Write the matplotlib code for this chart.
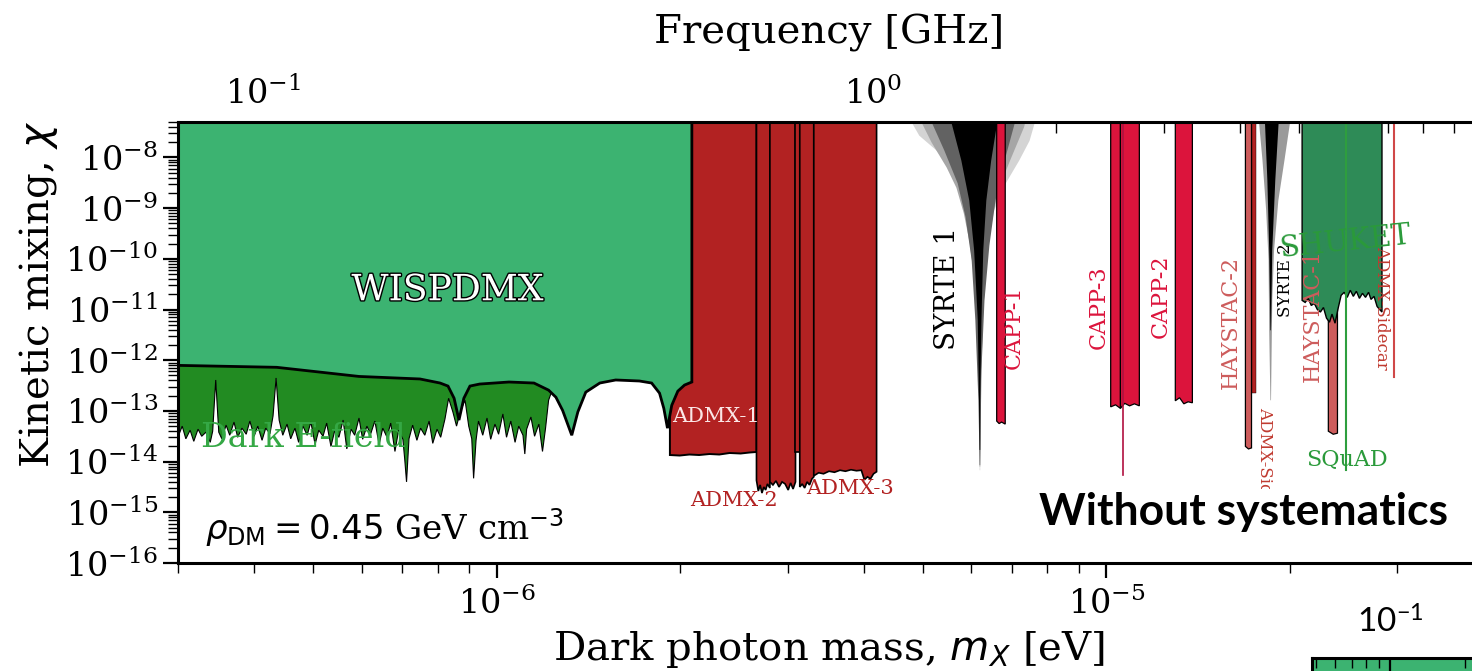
import matplotlib.pyplot as plt
import matplotlib.patheffects as pe
from matplotlib.ticker import LogLocator, NullFormatter
import numpy as np

plt.rcParams['font.family'] = 'serif'
plt.rcParams['font.serif'] = ['DejaVu Serif']
plt.rcParams['mathtext.fontset'] = 'dejavusans'

# all limits stored as log10(m_X / eV), log10(chi)
TOP = -7.0

# WISPDMX
wisp_logm = [-6.53, -6.361, -6.226, -6.126, -6.093, -6.080, -6.070, -6.062, -6.054, -6.044,
             -6.028, -5.980, -5.939, -5.915, -5.903, -5.892, -5.877, -5.867, -5.854, -5.831,
             -5.805, -5.766, -5.746, -5.733, -5.726, -5.720, -5.713, -5.703, -5.692, -5.680]
wisp_logchi = [-12.10, -12.14, -12.32, -12.37, -12.45, -12.51, -12.75, -13.18, -12.75, -12.51,
               -12.47, -12.43, -12.45, -12.59, -12.73, -12.99, -13.48, -13.02, -12.63, -12.45,
               -12.39, -12.41, -12.45, -12.65, -12.95, -13.34, -12.89, -12.61, -12.49, -12.43]

# Dark E-field
efield_logm = [-6.530, -6.523, -6.516, -6.510, -6.503, -6.497, -6.490, -6.484, -6.477, -6.470,
               -6.466, -6.461, -6.456, -6.451, -6.444, -6.438, -6.431, -6.425, -6.418, -6.411,
               -6.405, -6.398, -6.392, -6.385, -6.379, -6.372, -6.367, -6.362, -6.357, -6.351,
               -6.344, -6.338, -6.331, -6.325, -6.318, -6.311, -6.305, -6.298, -6.292, -6.285,
               -6.279, -6.272, -6.266, -6.259, -6.252, -6.246, -6.239, -6.233, -6.226, -6.220,
               -6.213, -6.207, -6.200, -6.193, -6.187, -6.180, -6.174, -6.167, -6.161, -6.154,
               -6.151, -6.148, -6.144, -6.138, -6.131, -6.125, -6.118, -6.111, -6.105, -6.098,
               -6.092, -6.085, -6.079, -6.072, -6.066, -6.059, -6.052, -6.046, -6.041, -6.038,
               -6.034, -6.030, -6.023, -6.016, -6.010, -6.003, -5.997, -5.990, -5.984, -5.977,
               -5.970, -5.964, -5.957, -5.954, -5.951, -5.944, -5.938, -5.931, -5.925, -5.920,
               -5.915, -5.908]
efield_logchi = [-13.45, -13.52, -13.30, -13.55, -13.38, -13.60, -13.36, -13.50, -13.42, -13.62,
                 -13.40, -12.39, -13.42, -13.55, -13.28, -13.48, -13.22, -13.52, -13.34, -13.46,
                 -13.20, -13.50, -13.30, -13.58, -13.34, -13.45, -13.10, -12.35, -13.18, -13.48,
                 -13.26, -13.55, -13.34, -13.62, -13.30, -13.48, -13.22, -13.66, -13.38, -13.50,
                 -13.24, -13.70, -13.40, -13.52, -13.18, -13.75, -13.36, -13.48, -13.14, -13.56,
                 -13.30, -13.46, -13.20, -13.66, -13.34, -13.52, -13.24, -13.80, -13.38, -13.56,
                 -13.95, -14.40, -13.55, -13.28, -13.58, -13.34, -13.48, -13.20, -13.64, -13.36,
                 -13.52, -13.16, -12.75, -13.02, -13.30, -12.98, -12.79, -13.30, -13.55, -14.33,
                 -13.58, -13.20, -13.48, -13.14, -13.56, -13.26, -13.46, -13.06, -13.52, -13.20,
                 -13.62, -13.30, -13.48, -13.85, -13.36, -13.12, -13.50, -13.26, -13.80, -13.34,
                 -12.79, -12.55]

# ADMX runs
admx1_logm = [-5.716, -5.700, -5.684, -5.668, -5.651, -5.635, -5.618, -5.600, -5.585, -5.574]
admx1_logchi = [-13.87, -13.88, -13.86, -13.87, -13.85, -13.86, -13.83, -13.84, -13.82, -13.81]
admx2a_logm = [-5.574, -5.571, -5.568, -5.565, -5.562, -5.559, -5.556, -5.552]
admx2a_logchi = [-14.37, -14.58, -14.46, -14.62, -14.50, -14.56, -14.44, -14.52]
admx2b_logm = [-5.552, -5.547, -5.542, -5.537, -5.532, -5.527, -5.522, -5.518, -5.514, -5.510]
admx2b_logchi = [-14.40, -14.46, -14.38, -14.50, -14.40, -14.44, -14.56, -14.42, -14.54, -14.40]
admx2c_logm = [-5.510, -5.503]
admx2c_logchi = [-13.81, -13.81]
admx3a_logm = [-5.503, -5.499, -5.495, -5.491, -5.487, -5.483, -5.480]
admx3a_logchi = [-14.50, -14.44, -14.52, -14.40, -14.46, -14.34, -14.30]
admx3b_logm = [-5.480, -5.472, -5.464, -5.455, -5.446, -5.437, -5.428, -5.419, -5.410,
               -5.402, -5.397, -5.392, -5.387, -5.382, -5.377]
admx3b_logchi = [-14.28, -14.22, -14.24, -14.19, -14.21, -14.17, -14.19, -14.16, -14.18,
                 -14.17, -14.36, -14.30, -14.34, -14.24, -14.20]

# CAPP runs
capp1_logm = [-5.180, -5.176, -5.172, -5.166]
capp1_logchi = [-13.20, -13.25, -13.22, -13.26]
capp3a_logm = [-4.993, -4.985, -4.977]
capp3a_logchi = [-12.92, -12.88, -12.95]
capp3b_logm = [-4.977, -4.970, -4.962, -4.954, -4.946]
capp3b_logchi = [-12.95, -12.85, -12.90, -12.86, -12.90]
capp3_line_logm = -4.972
capp3_line_logchi = -14.27
capp2_logm = [-4.887, -4.880, -4.873, -4.866, -4.859]
capp2_logchi = [-12.80, -12.74, -12.86, -12.82, -12.84]

# HAYSTAC, ADMX sidecar, SQuAD, SHUKET
haystac2_logm = [-4.772, -4.767, -4.762]
haystac2_logchi = [-13.70, -13.75, -13.73]
sidecar1_logm = [-4.762, -4.754]
sidecar1_logchi = [-12.65, -12.65]
haystac1_logm = [-4.636, -4.628, -4.621]
haystac1_logchi = [-13.40, -13.46, -13.44]
squad_logm = -4.607
squad_logchi = -14.17
sidecar2_logm = -4.528
sidecar2_logchi = -12.34
shuket_logm = [-4.679, -4.674, -4.669, -4.664, -4.659, -4.654, -4.649, -4.644, -4.639, -4.634,
               -4.630, -4.625, -4.620, -4.615, -4.610, -4.605, -4.600, -4.595, -4.590, -4.585,
               -4.580, -4.575, -4.570, -4.566, -4.561, -4.556, -4.551, -4.548]
shuket_logchi = [-10.82, -10.86, -10.78, -10.92, -10.88, -11.00, -11.05, -10.96, -11.17, -11.25,
                 -11.09, -11.27, -10.98, -10.72, -10.66, -10.76, -10.62, -10.74, -10.64, -10.78,
                 -10.68, -10.76, -10.66, -10.80, -10.74, -10.94, -11.01, -11.05]

# SYRTE clock comparisons, nested envelopes (outer -> inner)
syrte1_layers = [
    ([-5.334, -5.307, -5.279, -5.257, -5.243, -5.233, -5.225, -5.218, -5.215, -5.211, -5.210,
      -5.208, -5.208, -5.207, -5.207, -5.203, -5.198, -5.192, -5.184, -5.167, -5.143, -5.126, -5.110],
     [-7.0, -7.57, -7.86, -8.20, -8.51, -8.85, -9.18, -9.64, -10.17, -10.82, -11.47,
      -12.79, -14.17, -14.17, -12.79, -11.21, -10.23, -9.54, -9.04, -8.55, -8.06, -7.67, -7.0]),
    ([-5.316, -5.287, -5.262, -5.246, -5.234, -5.224, -5.216, -5.211, -5.209, -5.208,
      -5.207, -5.206, -5.202, -5.196, -5.188, -5.176, -5.158, -5.135, -5.127],
     [-7.0, -7.70, -8.20, -8.60, -9.10, -9.70, -10.50, -11.40, -12.79, -14.10,
      -14.10, -12.50, -11.00, -10.00, -9.20, -8.60, -8.06, -7.40, -7.0]),
    ([-5.298, -5.266, -5.244, -5.231, -5.221, -5.215, -5.210, -5.208,
      -5.207, -5.205, -5.200, -5.192, -5.182, -5.167, -5.143],
     [-7.0, -7.86, -8.51, -9.18, -10.03, -11.21, -12.79, -14.07,
      -14.07, -12.20, -10.82, -9.74, -8.85, -8.06, -7.0]),
    ([-5.261, -5.238, -5.225, -5.217, -5.211, -5.209, -5.208,
      -5.207, -5.207, -5.205, -5.202, -5.197, -5.189, -5.175],
     [-7.0, -8.06, -8.85, -9.83, -11.21, -12.79, -13.77,
      -13.77, -12.79, -11.21, -9.83, -8.85, -8.06, -7.0]),
]
syrte2_layers = [
    ([-4.752, -4.744, -4.738, -4.734, -4.733, -4.731, -4.730, -4.728, -4.725, -4.718, -4.708, -4.695],
     [-7.0, -8.06, -9.04, -10.03, -11.41, -12.79, -12.79, -10.82, -9.83, -8.85, -8.06, -7.0]),
    ([-4.741, -4.736, -4.733, -4.731, -4.730, -4.728, -4.723, -4.716],
     [-7.0, -8.45, -9.83, -11.41, -11.41, -9.83, -8.45, -7.0]),
]
syrte_shades = ['#d4d4d4', '#a6a6a6', '#626262', '#000000']
syrte2_shades = ['#9a9a9a', '#000000']

fig = plt.figure(figsize=(14.72, 6.71), dpi=100)
ax = fig.add_axes([178 / 1472, 108 / 671, 1302 / 1472, 441 / 671])


def region(logm, logchi, fc, z, lw=1.0):
    m = 10 ** np.asarray(logm)
    chi = 10 ** np.asarray(logchi)
    xs = np.concatenate([[m[0]], m, [m[-1]]])
    ys = np.concatenate([[10 ** TOP], chi, [10 ** TOP]])
    ax.fill(xs, ys, facecolor=fc, edgecolor='k', lw=lw, zorder=z)


region(efield_logm, efield_logchi, 'forestgreen', 1, lw=0.8)
region(admx1_logm, admx1_logchi, 'firebrick', 2, lw=1.4)
for lm, lc in [(admx2a_logm, admx2a_logchi), (admx2b_logm, admx2b_logchi),
               (admx2c_logm, admx2c_logchi), (admx3a_logm, admx3a_logchi),
               (admx3b_logm, admx3b_logchi)]:
    region(lm, lc, 'firebrick', 2, lw=1.2)
region(wisp_logm, wisp_logchi, 'mediumseagreen', 3, lw=2.0)

region(capp1_logm, capp1_logchi, 'crimson', 2, lw=0.9)
region(capp3a_logm, capp3a_logchi, 'crimson', 2, lw=0.9)
region(capp3b_logm, capp3b_logchi, 'crimson', 2, lw=0.9)
region(capp2_logm, capp2_logchi, 'crimson', 2, lw=0.9)
ax.plot([10 ** capp3_line_logm] * 2, [10 ** TOP, 10 ** capp3_line_logchi],
        color='#b01040', lw=1.2, zorder=2)

region(haystac2_logm, haystac2_logchi, 'indianred', 2, lw=0.9)
region(sidecar1_logm, sidecar1_logchi, 'firebrick', 2, lw=0.3)
region(haystac1_logm, haystac1_logchi, 'indianred', 2, lw=0.9)
region(shuket_logm, shuket_logchi, 'seagreen', 3, lw=1.0)
ax.plot([10 ** squad_logm] * 2, [10 ** TOP, 10 ** squad_logchi], color='#2e9e3e', lw=1.5, zorder=4)
ax.plot([10 ** sidecar2_logm] * 2, [10 ** TOP, 10 ** sidecar2_logchi], color='#d04848', lw=1.5, zorder=2)

for layers, shades in [(syrte1_layers, syrte_shades), (syrte2_layers, syrte2_shades)]:
    for (lm, lc), shade in zip(layers, shades):
        ax.fill(10 ** np.asarray(lm), 10 ** np.asarray(lc), facecolor=shade, lw=0, zorder=1.5)

ax.set_xscale('log')
ax.set_yscale('log')
ax.set_xlim(3.0e-7, 4.1e-5)
ax.set_ylim(1e-16, 5e-8)

ax.yaxis.set_major_locator(LogLocator(base=10, numticks=30))
ax.yaxis.set_minor_locator(LogLocator(base=10, subs=np.arange(2, 10), numticks=300))
ax.yaxis.set_minor_formatter(NullFormatter())
ax.xaxis.set_minor_formatter(NullFormatter())

ax.tick_params(which='major', direction='out', length=11, width=1.6, labelsize=24)
ax.tick_params(which='minor', direction='out', length=7, width=1.0)
ax.tick_params(axis='x', which='major', pad=6)
for s in ax.spines.values():
    s.set_linewidth(2.2)
    s.set_zorder(10)

ax.set_xlabel('Dark photon mass, $m_X$ [eV]', fontsize=29, labelpad=6)
ax.set_ylabel('Kinetic mixing, $\\chi$', fontsize=29)
ax.yaxis.set_label_coords(-0.091, 0.61)


def ev_to_ghz(m):
    return m / 4.1357e-6


def ghz_to_ev(f):
    return f * 4.1357e-6


sec = ax.secondary_xaxis('top', functions=(ev_to_ghz, ghz_to_ev))
sec.set_xticks([0.1, 1.0])
sec.tick_params(which='major', direction='in', length=11, width=1.6, labelsize=24, pad=8)
sec.tick_params(which='minor', direction='in', length=8, width=1.0)
sec.xaxis.set_minor_formatter(NullFormatter())
sec.set_xlabel('Frequency [GHz]', fontsize=29, labelpad=24)

# labels
ax.text(8.3e-7, 2.4e-11, 'WISPDMX', fontsize=26, color='white', ha='center', va='center', zorder=12,
        path_effects=[pe.withStroke(linewidth=2, foreground='k')])
ax.text(4.81e-7, 2.9e-14, 'Dark E-field', fontsize=24, color='#35a845', ha='center', va='center', zorder=12)
ax.text(2.29e-6, 7.6e-14, 'ADMX-1', fontsize=15, color='#fbe6e6', ha='center', va='center', zorder=12)
ax.text(2.45e-6, 1.74e-15, 'ADMX-2', fontsize=15, color='firebrick', ha='center', va='center', zorder=12)
ax.text(3.8e-6, 3.0e-15, 'ADMX-3', fontsize=15, color='firebrick', ha='center', va='center', zorder=12)
ax.text(5.48e-6, 2.6e-11, 'SYRTE 1', fontsize=20, color='k', rotation=90, ha='center', va='center', zorder=12)
ax.text(7.05e-6, 4.47e-12, 'CAPP-1', fontsize=16, color='crimson', rotation=90, ha='center', va='center', zorder=12)
ax.text(9.7e-6, 1.1e-11, 'CAPP-3', fontsize=16, color='crimson', rotation=90, ha='center', va='center', zorder=12)
ax.text(1.228e-5, 1.82e-11, 'CAPP-2', fontsize=16, color='crimson', rotation=90, ha='center', va='center', zorder=12)
ax.text(1.6e-5, 5.6e-12, 'HAYSTAC-2', fontsize=16, color='indianred', rotation=90, ha='center', va='center', zorder=12)
ax.text(1.816e-5, 1.18e-13, 'ADMX-Sidecar', fontsize=12, color='#c03a30', rotation=-90, ha='center', va='top', zorder=12)
ax.text(1.97e-5, 3.8e-11, 'SYRTE 2', fontsize=12, color='k', rotation=90, ha='center', va='center', zorder=12)
ax.text(2.18e-5, 7.7e-12, 'HAYSTAC-1', fontsize=16, color='indianred', rotation=90, ha='center', va='center', zorder=12)
ax.text(2.83e-5, 1.06e-11, 'ADMX-Sidecar', fontsize=12, color='#c03a30', rotation=-90, ha='center', va='center', zorder=12)
ax.text(2.47e-5, 2.1e-10, 'SHUKET', fontsize=21, color='#2a9a3a', rotation=6, ha='center', va='center', zorder=12)
ax.text(2.48e-5, 1.07e-14, 'SQuAD', fontsize=16, color='#2a9a3a', ha='center', va='center', zorder=12)
ax.text(3.32e-7, 5.1e-16, r'$\rho_{\rm DM} = 0.45$ GeV cm$^{-3}$', fontsize=24.5, ha='left', va='center', zorder=12)

fig.text(0.8445, 0.237, 'Without systematics', fontsize=32, fontweight='bold', family='Lato',
         ha='center', va='center', zorder=20,
         bbox=dict(facecolor='white', edgecolor='none', pad=2))

# next panel peeking in at the bottom right
ax2 = fig.add_axes([1312 / 1472, -0.05, 168 / 1472, 13 / 671 + 0.05])
ax2.set_facecolor('mediumseagreen')
ax2.set_xscale('log')
ax2.set_xlim(0.0483, 0.231)
ax2.set_yticks([])
ax2.xaxis.set_ticks_position('top')
ax2.set_xticks([0.1])
ax2.set_xticklabels(['$\\mathregular{10^{-1}}$'], family='Lato', fontsize=24)
ax2.xaxis.set_minor_formatter(NullFormatter())
ax2.tick_params(which='major', direction='in', length=11, width=1.6, pad=14)
ax2.tick_params(which='minor', direction='in', length=7, width=1.0)
for s in ax2.spines.values():
    s.set_linewidth(2.2)

fig.savefig('out.png', dpi=100)
